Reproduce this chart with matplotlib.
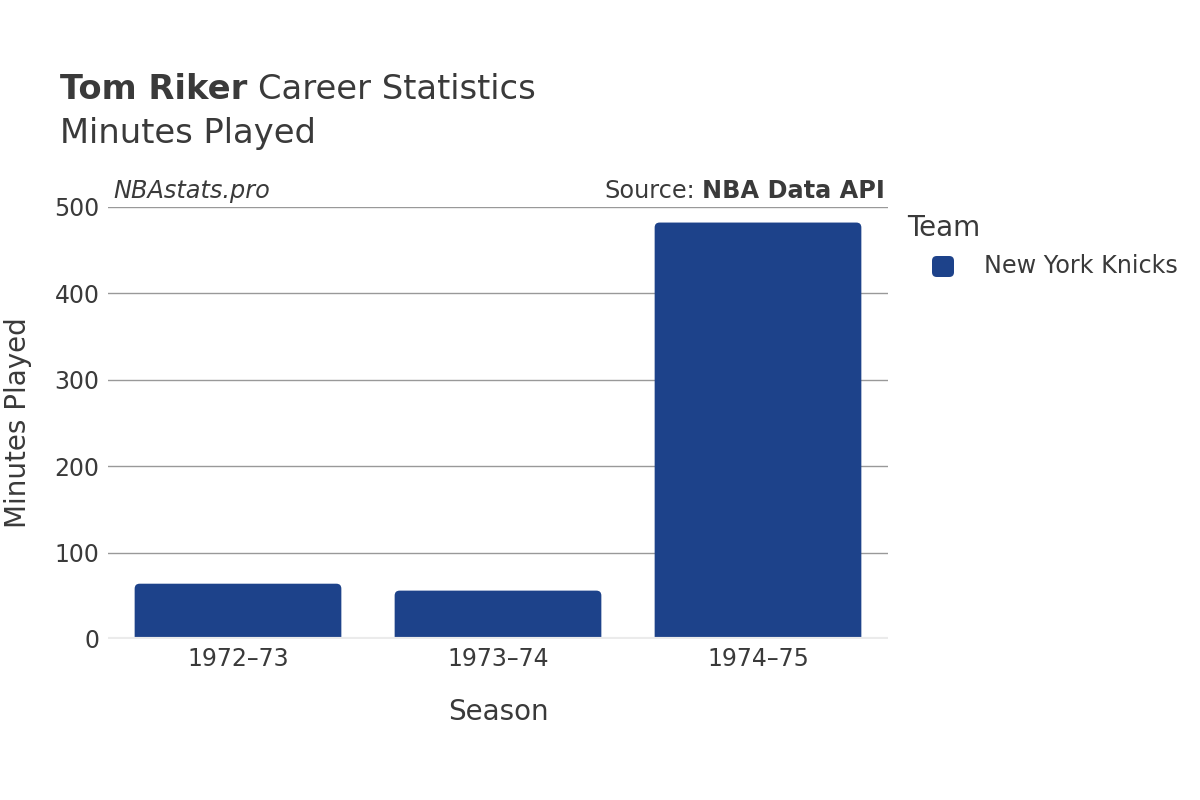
import matplotlib
matplotlib.use("Agg")
import matplotlib.pyplot as plt
from matplotlib.patches import FancyBboxPatch

seasons = ["1972–73", "1973–74", "1974–75"]
minutes = [64, 56, 482]
team = "New York Knicks"
bar_color = "#1d428a"
yticks = [0, 100, 200, 300, 400, 500]

plt.rcParams['font.family'] = ['DejaVu Sans']
txt = "#3a3a3a"

fig = plt.figure(figsize=(12, 8), dpi=100)
ax = fig.add_axes([0.09, 0.20125, 0.65, 0.54])
ax.set_xlim(-0.5, 2.5)
ax.set_ylim(0, 500)

px_x = 780 / 3.0
px_y = 432 / 500.0
r = 5
for i, v in enumerate(seasons):
    w = 0.795
    p = FancyBboxPatch((i - w / 2, -20), w, minutes[i] + 20,
                       boxstyle=f"round,pad=0,rounding_size={r / px_x}",
                       mutation_aspect=(r / px_y) / (r / px_x),
                       facecolor=bar_color, edgecolor="none", zorder=3)
    ax.add_patch(p)

ax.set_xticks(range(len(seasons)))
ax.set_xticklabels(seasons)
ax.set_yticks(yticks)
ax.tick_params(axis='both', length=0, labelsize=17, colors=txt)
ax.tick_params(axis='x', pad=5.5)
ax.tick_params(axis='y', pad=6)
for y in yticks[1:]:
    ax.axhline(y, color="#999999", lw=1, zorder=1)
ax.axhline(0, color="#ebebeb", lw=3, zorder=4)
for s in ax.spines.values():
    s.set_visible(False)

ax.set_xlabel("Season", fontsize=20, color=txt, labelpad=20)
ax.set_ylabel("Minutes Played", fontsize=20, color=txt, labelpad=16)

tb = 1 - 99 / 800
t1 = fig.text(0.05, tb, "Tom Riker", fontsize=24.3, color=txt, va="baseline", fontweight="bold")
fig.canvas.draw()
bb = t1.get_window_extent()
fig.text(bb.x1 / 1200 + 0.009, tb, "Career Statistics", fontsize=24.3, color=txt, va="baseline")
fig.text(0.05, 1 - 143 / 800, "Minutes Played", fontsize=24.3, color=txt, va="baseline")

sb = 1 - 198 / 800
fig.text(113 / 1200, sb, "NBAstats.pro", fontsize=17.3, style="italic", color=txt, va="baseline")
s2 = fig.text(885 / 1200, sb, "NBA Data API", fontsize=17.3, fontweight="bold", color=txt, va="baseline", ha="right")
fig.canvas.draw()
bb2 = s2.get_window_extent()
fig.text(bb2.x0 / 1200 - 0.006, sb, "Source:", fontsize=17.3, color=txt, va="baseline", ha="right")

fig.text(907 / 1200, 1 - 236 / 800, "Team", fontsize=20, color=txt, va="baseline")
leg = FancyBboxPatch((932 / 1200, 1 - 277 / 800), 22 / 1200, 21 / 800,
                     boxstyle="round,pad=0,rounding_size=0.004",
                     mutation_aspect=1.5,
                     transform=fig.transFigure, facecolor=bar_color, edgecolor="none")
fig.patches.append(leg)
fig.text(984 / 1200, 1 - 266 / 800, team, fontsize=17.2, color=txt, va="center")

fig.savefig("out.png", dpi=100)
